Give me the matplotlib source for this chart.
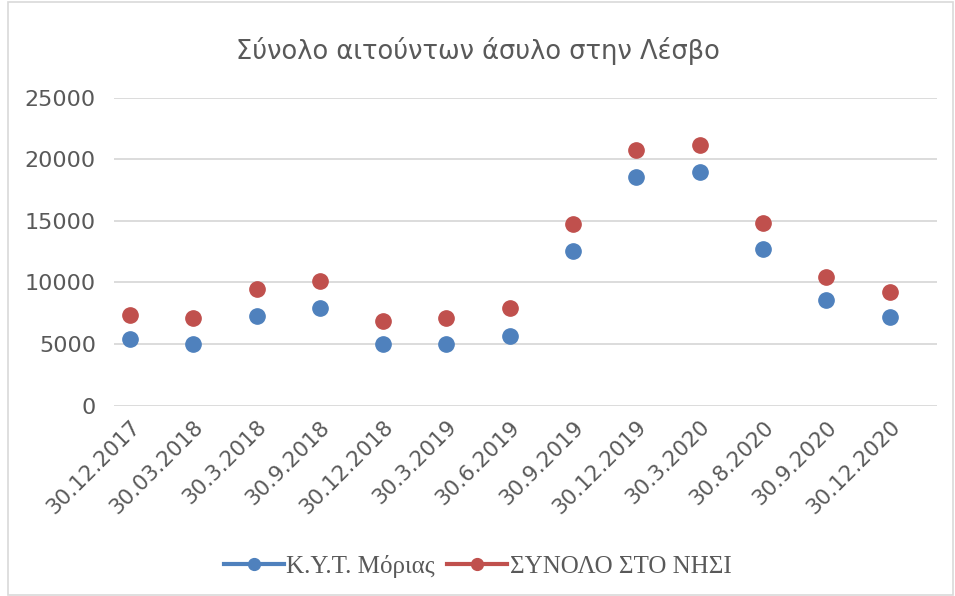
import matplotlib
matplotlib.use("Agg")
import matplotlib.pyplot as plt
import matplotlib.transforms as mtransforms
from matplotlib.patches import Rectangle

plt.rcParams['font.family'] = ['DejaVu Sans']

dates = ['30.12.2017', '30.03.2018', '30.3.2018', '30.9.2018', '30.12.2018',
         '30.3.2019', '30.6.2019', '30.9.2019', '30.12.2019', '30.3.2020',
         '30.8.2020', '30.9.2020', '30.12.2020']
moria = [5400, 5000, 7300, 7950, 5000, 5000, 5630, 12560, 18590, 18970,
         12700, 8580, 7180]
total = [7360, 7100, 9450, 10100, 6900, 7100, 7900, 14770, 20780, 21160,
         14850, 10420, 9200]

blue = '#4F81BD'
red = '#C0504D'
grey = '#595959'

fig = plt.figure(figsize=(9.55, 5.96), dpi=100)
ax = fig.add_axes([0.1194, 0.3193, 0.862, 0.5168])

x = list(range(len(dates)))
ax.plot(x, moria, 'o', color=blue, markersize=11, label='Κ.Υ.Τ. Μόριας', zorder=3)
ax.plot(x, total, 'o', color=red, markersize=11, label='ΣΥΝΟΛΟ ΣΤΟ ΝΗΣΙ', zorder=3)

ax.set_xlim(-0.25, 12.75)
ax.set_ylim(0, 25000)
ax.set_yticks(range(0, 25001, 5000))
ax.grid(axis='y', color='#D9D9D9', linewidth=1.3)
ax.set_axisbelow(True)
for s in ax.spines.values():
    s.set_visible(False)
ax.tick_params(axis='both', length=0, labelsize=16, labelcolor=grey)
ax.tick_params(axis='y', pad=13)
ax.set_xticks(x)
ax.set_xticklabels(dates, rotation=45, ha='right', rotation_mode='anchor')
shift = mtransforms.ScaledTranslation(0.09, 0.0, fig.dpi_scale_trans)
for lbl in ax.get_xticklabels():
    lbl.set_fontsize(15.5)
    lbl.set_transform(lbl.get_transform() + shift)
ax.tick_params(axis='x', pad=8)

fig.text(0.5, 0.915, 'Σύνολο αιτούντων άσυλο στην Λέσβο', ha='center', va='center',
         fontsize=18.5, color=grey)

leg = fig.legend(loc='center', bbox_to_anchor=(0.5, 0.05), ncol=2, frameon=False,
                 prop={'family': 'Liberation Serif', 'size': 18}, handlelength=2.4,
                 columnspacing=0.5, handletextpad=0.1)
for h in leg.legend_handles:
    h.set_linestyle('-')
    h.set_linewidth(3)
    h.set_markersize(8.5)
for t in leg.get_texts():
    t.set_color(grey)

fig.patches.append(Rectangle((0.008, 0.002), 0.99, 0.995, transform=fig.transFigure,
                             fill=False, edgecolor='#D9D9D9', linewidth=1.2))

fig.savefig('out.png', dpi=100)
